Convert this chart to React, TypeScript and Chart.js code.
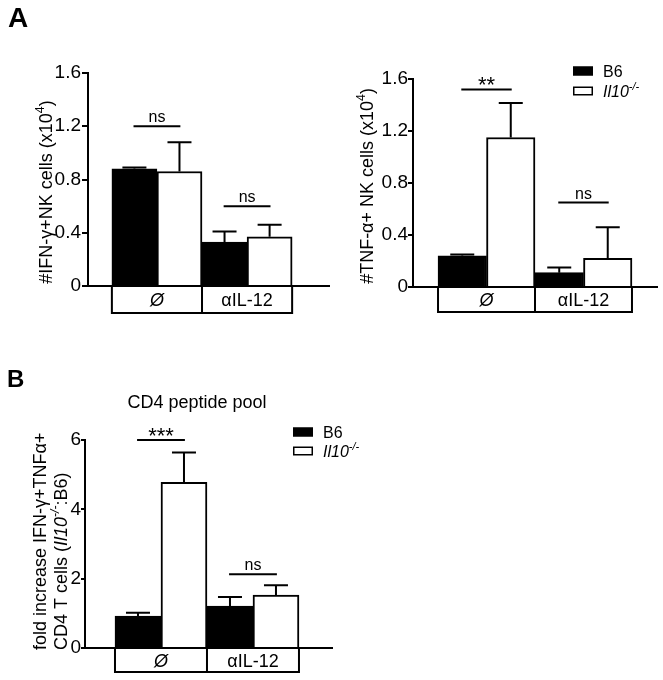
import React, { useEffect, useRef } from 'react';
import { Chart, registerables } from 'chart.js';

Chart.register(...registerables);

const FONT = '"Liberation Sans", Arial, Helvetica, sans-serif';

// ---------- data ----------
const categories = ['Ø', 'αIL-12'];
const categoryItalic = [true, false];
const seriesLabels = ['B6', 'Il10-/-'];

// Panel A (left): #IFN-γ+ NK cells (x10^4)
const ifnB6 = [0.88, 0.33];
const ifnB6Err = [0.89, 0.41];
const ifnKO = [0.86, 0.37];
const ifnKOErr = [1.08, 0.46];
const ifnSigLevels = [1.2, 0.6];
const ifnSigLabels = ['ns', 'ns'];
const ifnTicks = [0, 0.4, 0.8, 1.2, 1.6];
const ifnTickLabels = ['0', '0.4', '0.8', '1.2', '1.6'];

// Panel A (right): #TNF-α+ NK cells (x10^4)
const tnfB6 = [0.24, 0.11];
const tnfB6Err = [0.25, 0.15];
const tnfKO = [1.15, 0.22];
const tnfKOErr = [1.415, 0.46];
const tnfSigLevels = [1.52, 0.65];
const tnfSigLabels = ['**', 'ns'];
const tnfTicks = [0, 0.4, 0.8, 1.2, 1.6];
const tnfTickLabels = ['0', '0.4', '0.8', '1.2', '1.6'];

// Panel B: fold increase IFN-γ+TNFα+ CD4 T cells
const cd4B6 = [0.92, 1.21];
const cd4B6Err = [1.02, 1.47];
const cd4KO = [4.78, 1.53];
const cd4KOErr = [5.64, 1.81];
const cd4SigLevels = [6.0, 2.13];
const cd4SigLabels = ['***', 'ns'];
const cd4Ticks = [0, 2, 4, 6];
const cd4TickLabels = ['0', '2', '4', '6'];

// ---------- rich text helpers ----------
type Seg = { t: string; italic?: boolean; sup?: boolean };

function segFont(size: number, s: Seg) {
  const sz = s.sup ? size * 0.68 : size;
  return `${s.italic ? 'italic ' : ''}${sz}px ${FONT}`;
}

function richWidth(ctx: CanvasRenderingContext2D, segs: Seg[], size: number) {
  let w = 0;
  for (const s of segs) {
    ctx.font = segFont(size, s);
    w += ctx.measureText(s.t).width;
  }
  return w;
}

function drawRich(
  ctx: CanvasRenderingContext2D,
  segs: Seg[],
  size: number,
  x: number,
  y: number,
  align: 'left' | 'center'
) {
  const w = richWidth(ctx, segs, size);
  let cx = align === 'center' ? x - w / 2 : x;
  ctx.textAlign = 'left';
  ctx.textBaseline = 'alphabetic';
  for (const s of segs) {
    ctx.font = segFont(size, s);
    ctx.fillText(s.t, cx, s.sup ? y - size * 0.42 : y);
    cx += ctx.measureText(s.t).width;
  }
}

// ---------- panel config ----------
interface YLabelLine {
  segs: Seg[];
  x: number;
  y: number;
  align: 'left' | 'center';
}

interface Panel {
  left: number;
  top: number;
  width: number;
  height: number;
  padding: { left: number; top: number; right: number; bottom: number };
  yWidth: number;
  xMin: number;
  xMax: number;
  yMax: number;
  ticks: number[];
  tickLabels: string[];
  tickLength: number;
  tickPad: number;
  b6: number[];
  b6Err: number[];
  ko: number[];
  koErr: number[];
  sigLevels: number[];
  sigLabels: string[];
  boxH: number;
  yLabelSize: number;
  yLabel: YLabelLine[];
  legend: { x: number; rows: number[] } | null;
}

const panels: Panel[] = [
  {
    left: 0,
    top: 0,
    width: 330,
    height: 330,
    padding: { left: 28, top: 73, right: 1, bottom: 44 },
    yWidth: 60,
    xMin: 0.235,
    xMax: 2.909,
    yMax: 1.6,
    ticks: ifnTicks,
    tickLabels: ifnTickLabels,
    tickLength: 6,
    tickPad: 1,
    b6: ifnB6,
    b6Err: ifnB6Err,
    ko: ifnKO,
    koErr: ifnKOErr,
    sigLevels: ifnSigLevels,
    sigLabels: ifnSigLabels,
    boxH: 27,
    yLabelSize: 18,
    yLabel: [
      {
        segs: [{ t: '#IFN-γ+NK cells (x10' }, { t: '4', sup: true }, { t: ')' }],
        x: 52,
        y: 192,
        align: 'center',
      },
    ],
    legend: null,
  },
  {
    left: 330,
    top: 0,
    width: 333,
    height: 330,
    padding: { left: 23, top: 79, right: 6, bottom: 43 },
    yWidth: 60,
    xMin: 0.242,
    xMax: 2.758,
    yMax: 1.6,
    ticks: tnfTicks,
    tickLabels: tnfTickLabels,
    tickLength: 5,
    tickPad: 0,
    b6: tnfB6,
    b6Err: tnfB6Err,
    ko: tnfKO,
    koErr: tnfKOErr,
    sigLevels: tnfSigLevels,
    sigLabels: tnfSigLabels,
    boxH: 25,
    yLabelSize: 18,
    yLabel: [
      {
        segs: [{ t: '#TNF-α+ NK cells (x10' }, { t: '4', sup: true }, { t: ')' }],
        x: 43,
        y: 186,
        align: 'center',
      },
    ],
    legend: { x: 243, rows: [71, 91] },
  },
  {
    left: 0,
    top: 330,
    width: 420,
    height: 350,
    padding: { left: 25, top: 110, right: 88, bottom: 32 },
    yWidth: 60,
    xMin: 0.174,
    xMax: 2.859,
    yMax: 6,
    ticks: cd4Ticks,
    tickLabels: cd4TickLabels,
    tickLength: 4,
    tickPad: 0,
    b6: cd4B6,
    b6Err: cd4B6Err,
    ko: cd4KO,
    koErr: cd4KOErr,
    sigLevels: cd4SigLevels,
    sigLabels: cd4SigLabels,
    boxH: 24,
    yLabelSize: 18,
    yLabel: [
      { segs: [{ t: 'fold increase IFN-γ+TNFα+' }], x: 46, y: 320, align: 'left' },
      {
        segs: [
          { t: 'CD4 T cells (' },
          { t: 'Il10', italic: true },
          { t: '-/-', italic: true, sup: true },
          { t: ':B6)' },
        ],
        x: 67,
        y: 320,
        align: 'left',
      },
    ],
    legend: { x: 293, rows: [102, 121] },
  },
];

function annotationPlugin(p: Panel) {
  return {
    id: 'annot',
    afterDraw(chart: any) {
      const ctx: CanvasRenderingContext2D = chart.ctx;
      const xs = chart.scales.x;
      const ys = chart.scales.y;
      const area = chart.chartArea;
      ctx.save();
      ctx.strokeStyle = '#000';
      ctx.fillStyle = '#000';
      ctx.lineWidth = 2;
      ctx.lineCap = 'butt';

      // error bars (upper only)
      const errs = [p.b6Err, p.koErr];
      errs.forEach((err, di) => {
        const meta = chart.getDatasetMeta(di);
        meta.data.forEach((bar: any, i: number) => {
          const yTop = bar.y;
          const yE = ys.getPixelForValue(err[i]);
          if (yTop - yE < 0.5) return;
          ctx.beginPath();
          ctx.moveTo(bar.x, yTop);
          ctx.lineTo(bar.x, yE);
          ctx.moveTo(bar.x - 12, yE);
          ctx.lineTo(bar.x + 12, yE);
          ctx.stroke();
        });
      });

      // significance lines
      const groupPx = xs.getPixelForValue(2) - xs.getPixelForValue(1);
      p.sigLevels.forEach((lvl, i) => {
        const cx = xs.getPixelForValue(i + 1);
        const y = ys.getPixelForValue(lvl);
        const hw = groupPx * 0.26;
        ctx.beginPath();
        ctx.moveTo(cx - hw, y);
        ctx.lineTo(cx + hw, y);
        ctx.stroke();
        const label = p.sigLabels[i];
        const isStar = label.indexOf('*') >= 0;
        ctx.font = `${isStar ? 22 : 16}px ${FONT}`;
        ctx.textAlign = 'center';
        ctx.textBaseline = 'alphabetic';
        const m = ctx.measureText(label);
        const gap = 4;
        const baseline = y - gap - m.actualBoundingBoxDescent;
        ctx.fillText(label, cx, baseline);
      });

      // category box
      const bTop = area.bottom;
      const bBot = area.bottom + p.boxH;
      const bl = xs.getPixelForValue(0.5);
      const br = xs.getPixelForValue(categories.length + 0.5);
      ctx.beginPath();
      ctx.rect(bl, bTop, br - bl, p.boxH);
      for (let i = 1; i < categories.length; i++) {
        const dx = xs.getPixelForValue(i + 0.5);
        ctx.moveTo(dx, bTop);
        ctx.lineTo(dx, bBot);
      }
      ctx.stroke();
      ctx.beginPath();
      ctx.moveTo(area.left, area.bottom);
      ctx.lineTo(area.right, area.bottom);
      ctx.stroke();
      categories.forEach((c, i) => {
        ctx.font = `${categoryItalic[i] ? 'italic ' : ''}18px ${FONT}`;
        ctx.textAlign = 'center';
        ctx.textBaseline = 'alphabetic';
        ctx.fillText(c, xs.getPixelForValue(i + 1), bTop + p.boxH / 2 + 6.5);
      });

      // y-axis title (rotated)
      p.yLabel.forEach((ln) => {
        ctx.save();
        ctx.translate(ln.x, ln.y);
        ctx.rotate(-Math.PI / 2);
        drawRich(ctx, ln.segs, p.yLabelSize, 0, 0, ln.align);
        ctx.restore();
      });

      // legend
      if (p.legend) {
        const lg = p.legend;
        const legendSegs: Seg[][] = [
          [{ t: seriesLabels[0] }],
          [
            { t: seriesLabels[1].replace('-/-', ''), italic: true },
            { t: '-/-', italic: true, sup: true },
          ],
        ];
        const fills = ['#000', '#fff'];
        lg.rows.forEach((ry, i) => {
          ctx.fillStyle = fills[i];
          ctx.fillRect(lg.x, ry - 4.5, 20, 9);
          ctx.lineWidth = 1.5;
          ctx.strokeStyle = '#000';
          ctx.strokeRect(lg.x + 0.75, ry - 4.5 + 0.75, 18.5, 7.5);
          ctx.fillStyle = '#000';
          drawRich(ctx, legendSegs[i], 16, lg.x + 30, ry + 5.5, 'left');
        });
      }
      ctx.restore();
    },
  };
}

function BarPanel({ p }: { p: Panel }) {
  const ref = useRef<HTMLCanvasElement | null>(null);
  useEffect(() => {
    if (!ref.current) return;
    const datasets = [
      {
        label: seriesLabels[0],
        data: p.b6.map((v, i) => ({ x: i + 1, y: v })),
        backgroundColor: '#000',
        borderColor: '#000',
        borderWidth: 2,
        borderSkipped: 'bottom',
        categoryPercentage: 1,
        barPercentage: 1,
      },
      {
        label: seriesLabels[1],
        data: p.ko.map((v, i) => ({ x: i + 1, y: v })),
        backgroundColor: '#fff',
        borderColor: '#000',
        borderWidth: 2,
        borderSkipped: 'bottom',
        categoryPercentage: 1,
        barPercentage: 1,
      },
    ];
    const chart = new Chart(ref.current, {
      type: 'bar',
      data: { datasets } as any,
      options: {
        responsive: false,
        animation: false,
        layout: { padding: p.padding },
        plugins: {
          legend: { display: false },
          tooltip: { enabled: false },
          title: { display: false },
        },
        scales: {
          x: {
            type: 'linear',
            offset: false,
            min: p.xMin,
            max: p.xMax,
            afterBuildTicks: (s: any) => {
              s.ticks = categories.map((_, i) => ({ value: i + 1 }));
            },
            afterFit: (s: any) => {
              s.height = 0;
            },
            ticks: { display: false },
            grid: { display: false, offset: false },
            border: { display: true, color: '#000', width: 2 },
          },
          y: {
            type: 'linear',
            min: 0,
            max: p.yMax,
            afterBuildTicks: (s: any) => {
              s.ticks = p.ticks.map((v) => ({ value: v }));
            },
            afterFit: (s: any) => {
              s.width = p.yWidth;
            },
            ticks: {
              callback: (_v: any, i: number) => p.tickLabels[i],
              color: '#000',
              font: { family: FONT, size: 19 },
              padding: p.tickPad,
            },
            grid: {
              display: true,
              drawOnChartArea: false,
              drawTicks: true,
              tickLength: p.tickLength,
              color: '#000',
              lineWidth: 2,
            },
            border: { display: true, color: '#000', width: 2 },
          },
        },
      } as any,
      plugins: [annotationPlugin(p)],
    });
    return () => chart.destroy();
  }, [p]);
  return (
    <canvas
      ref={ref}
      width={p.width}
      height={p.height}
      style={{ position: 'absolute', left: p.left, top: p.top, width: p.width, height: p.height }}
    />
  );
}

export default function App() {
  return (
    <div
      style={{
        position: 'absolute',
        left: 0,
        top: 0,
        width: 663,
        height: 680,
        background: '#fff',
        fontFamily: FONT,
        color: '#000',
        overflow: 'hidden',
      }}
    >
      {panels.map((p, i) => (
        <BarPanel key={i} p={p} />
      ))}
      <div style={{ position: 'absolute', left: 8, top: 4, fontSize: 28, lineHeight: '28px', fontWeight: 'bold' }}>A</div>
      <div style={{ position: 'absolute', left: 7, top: 367, fontSize: 24, lineHeight: '24px', fontWeight: 'bold' }}>B</div>
      <div
        style={{
          position: 'absolute',
          left: 197,
          top: 393,
          fontSize: 18,
          lineHeight: '18px',
          transform: 'translateX(-50%)',
          whiteSpace: 'nowrap',
        }}
      >
        CD4 peptide pool
      </div>
    </div>
  );
}
